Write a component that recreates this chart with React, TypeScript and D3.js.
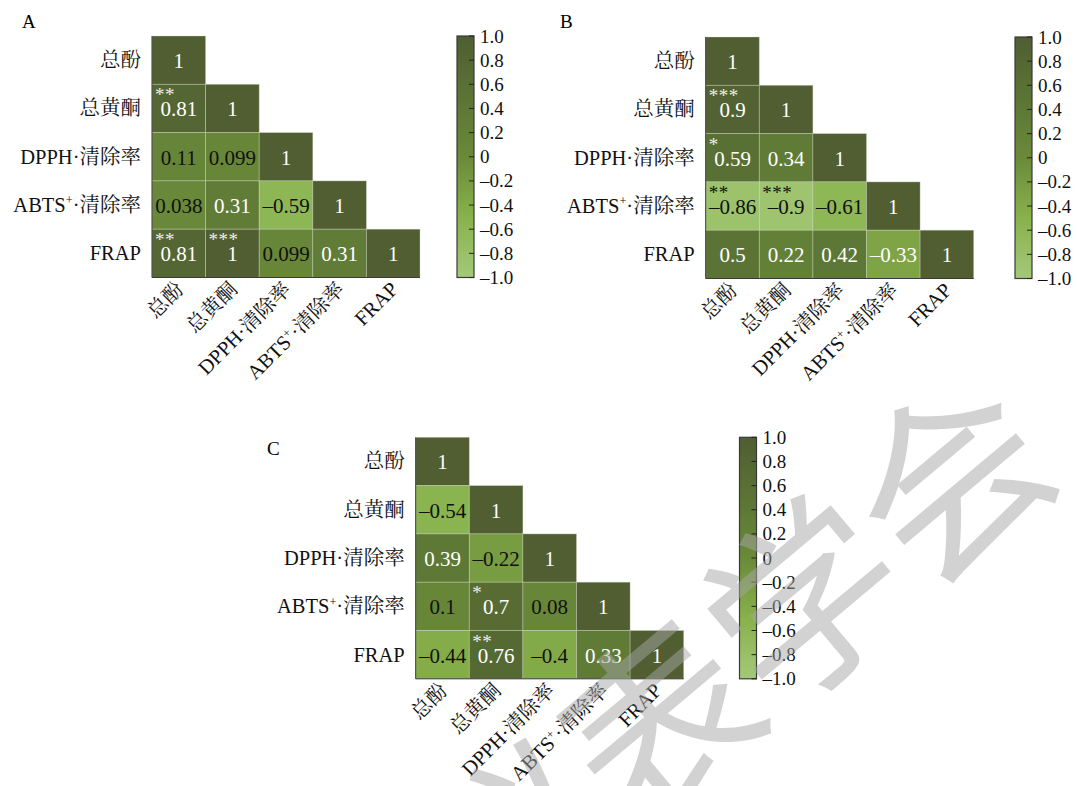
import React from "react";
import * as d3 from "d3";

const categories = ["总酚", "总黄酮", "DPPH·清除率", "ABTS⁺·清除率", "FRAP"];

// lower-triangular correlation matrices (row i, columns 0..i)
const valuesA: number[][] = [
  [1],
  [0.81, 1],
  [0.11, 0.099, 1],
  [0.038, 0.31, -0.59, 1],
  [0.81, 1, 0.099, 0.31, 1],
];
const starsA: string[][] = [
  [""],
  ["**", ""],
  ["", "", ""],
  ["", "", "", ""],
  ["**", "***", "", "", ""],
];

const valuesB: number[][] = [
  [1],
  [0.9, 1],
  [0.59, 0.34, 1],
  [-0.86, -0.9, -0.61, 1],
  [0.5, 0.22, 0.42, -0.33, 1],
];
const starsB: string[][] = [
  [""],
  ["***", ""],
  ["*", "", ""],
  ["**", "***", "", ""],
  ["", "", "", "", ""],
];

const valuesC: number[][] = [
  [1],
  [-0.54, 1],
  [0.39, -0.22, 1],
  [0.1, 0.7, 0.08, 1],
  [-0.44, 0.76, -0.4, 0.33, 1],
];
const starsC: string[][] = [
  [""],
  ["", ""],
  ["", "", ""],
  ["", "*", "", ""],
  ["", "**", "", "", ""],
];

const colorbarTicks = [1, 0.8, 0.6, 0.4, 0.2, 0, -0.2, -0.4, -0.6, -0.8, -1];

const FONT = "'Liberation Serif', 'Times New Roman', 'Noto Serif CJK SC', 'Noto Sans CJK SC', serif";

const color = d3
  .scaleLinear<string>()
  .domain([-1, -0.5, 0, 0.5, 1])
  .range(["#a4c879", "#88b24c", "#6a8a39", "#5b7435", "#505e31"])
  .interpolate(d3.interpolateRgb);

const fmtCell = (v: number) => {
  const s = String(v);
  return v < 0 ? "–" + s.slice(1) : s;
};
const fmtTick = (v: number) => {
  if (v === 0) return "0";
  const s = Math.abs(v).toFixed(1);
  return v < 0 ? "–" + s : s;
};
const whiteText = (v: number) => v > 0.15 || (v < -0.3 && v > -0.35);

function Label({ text, size }: { text: string; size: number }) {
  const i = text.indexOf("⁺");
  if (i < 0) return <>{text}</>;
  return (
    <>
      {text.slice(0, i)}
      <tspan fontSize={size * 0.6} dy={-size * 0.38}>+</tspan>
      <tspan dy={size * 0.38}>{text.slice(i + 1)}</tspan>
    </>
  );
}

const CW = 53.6;
const CH = 48.3;
const LBL = 20.5;

function Panel({
  letter,
  letterPos,
  left,
  top,
  cbX,
  values,
  stars,
  id,
}: {
  letter: string;
  letterPos: [number, number];
  left: number;
  top: number;
  cbX: number;
  values: number[][];
  stars: string[][];
  id: string;
}) {
  const x = d3.scaleBand<string>().domain(categories).range([left, left + CW * 5]).padding(0);
  const y = d3.scaleBand<string>().domain(categories).range([top, top + CH * 5]).padding(0);
  const bottom = top + CH * 5;
  const cbY = d3.scaleLinear().domain([-1, 1]).range([bottom, top]);
  const cbW = 17;
  const stops = d3.range(0, 21).map((k) => -1 + k * 0.1);

  return (
    <g>
      <text x={letterPos[0]} y={letterPos[1]} fontSize={19} fontFamily={FONT}>
        {letter}
      </text>
      {values.map((row, i) =>
        row.map((v, j) => {
          const cx = x(categories[j])!;
          const cy = y(categories[i])!;
          const tc = whiteText(v) ? "#ffffff" : "#111111";
          return (
            <g key={`${i}-${j}`}>
              <rect
                x={cx}
                y={cy}
                width={x.bandwidth()}
                height={y.bandwidth()}
                fill={color(v)}
                stroke="rgba(210,220,200,0.45)"
                strokeWidth={0.8}
              />
              <text
                x={cx + x.bandwidth() / 2}
                y={cy + y.bandwidth() / 2 + 8}
                textAnchor="middle"
                fontSize={21}
                fontFamily={FONT}
                fill={tc}
              >
                {fmtCell(v)}
              </text>
              {stars[i][j] ? (
                <text x={cx + 3} y={cy + 17} fontSize={19} fontFamily={FONT} fill={tc === "#ffffff" ? "#eeeeee" : "#111111"} letterSpacing={0.5}>
                  {stars[i][j]}
                </text>
              ) : null}
            </g>
          );
        })
      )}
      <line x1={left} y1={top} x2={left} y2={bottom} stroke="#3a3a3a" strokeWidth={1} />
      <line x1={left} y1={bottom} x2={left + CW * 5} y2={bottom} stroke="#3a3a3a" strokeWidth={1} />
      {categories.map((c) => (
        <text
          key={"r" + c}
          x={left - 11}
          y={y(c)! + y.bandwidth() / 2 + 7}
          textAnchor="end"
          fontSize={LBL}
          fontFamily={FONT}
          fill="#111"
        >
          <Label text={c} size={LBL} />
        </text>
      ))}
      {categories.map((c) => {
        const px = x(c)! + x.bandwidth() / 2 + 6;
        const py = bottom + 13;
        return (
          <text
            key={"c" + c}
            transform={`translate(${px},${py}) rotate(-45)`}
            textAnchor="end"
            fontSize={LBL}
            fontFamily={FONT}
            fill="#111"
          >
            <Label text={c} size={LBL} />
          </text>
        );
      })}
      <defs>
        <linearGradient id={"grad" + id} x1="0" y1="1" x2="0" y2="0">
          {stops.map((s) => (
            <stop key={s} offset={`${((s + 1) / 2) * 100}%`} stopColor={color(s)} />
          ))}
        </linearGradient>
      </defs>
      <rect x={cbX} y={top} width={cbW} height={bottom - top} fill={`url(#grad${id})`} stroke="#3a3a3a" strokeWidth={1.2} />
      {colorbarTicks.map((t) => (
        <g key={"t" + t}>
          <line x1={cbX + cbW - 5} x2={cbX + cbW} y1={cbY(t)} y2={cbY(t)} stroke="#222" strokeWidth={1} />
          <text x={cbX + cbW + 6} y={cbY(t) + 6.5} fontSize={19} fontFamily={FONT} fill="#111">
            {fmtTick(t)}
          </text>
        </g>
      ))}
    </g>
  );
}

export default function App() {
  return (
    <svg
      width={1077}
      height={786}
      style={{ position: "absolute", left: 0, top: 0, background: "#fff" }}
    >
      <rect x={0} y={0} width={1077} height={786} fill="#fff" />
      <Panel id="A" letter="A" letterPos={[22, 28]} left={152} top={36} cbX={457} values={valuesA} stars={starsA} />
      <Panel id="B" letter="B" letterPos={[560, 28]} left={705.7} top={37} cbX={1015} values={valuesB} stars={starsB} />
      <Panel id="C" letter="C" letterPos={[267, 455]} left={415.7} top={437.3} cbX={739.5} values={valuesC} stars={starsC} />
      <text
        transform="translate(1016,409) rotate(-40)"
        textAnchor="end"
        dominantBaseline="central"
        fontSize={190}
        fontFamily="'Noto Sans CJK SC', sans-serif"
        fill="rgba(165,165,165,0.5)"
      >
        中国仪器仪表学会
      </text>
    </svg>
  );
}
